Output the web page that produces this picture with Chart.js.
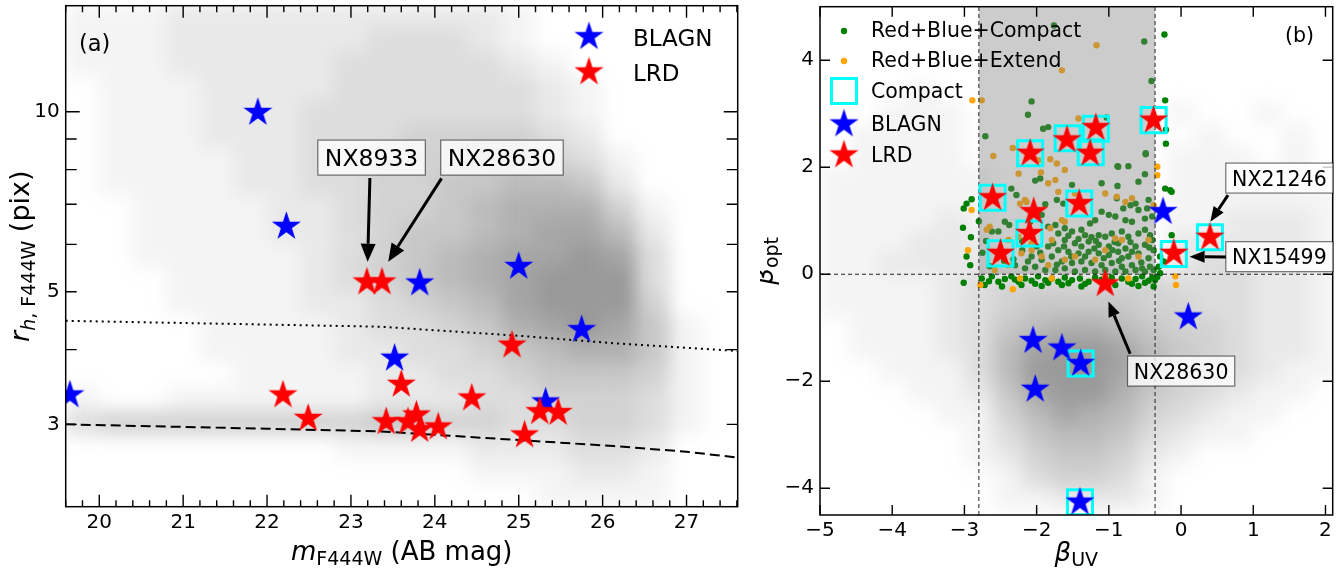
<!DOCTYPE html>
<html>
<head>
<meta charset="utf-8">
<script src="https://cdn.jsdelivr.net/npm/chart.js@4.4.0/dist/chart.umd.min.js"></script>
<style>
  body { margin: 0; background: #fff; width: 1342px; height: 570px; position: relative; overflow: hidden; }
  #ca { position: absolute; left: 0; top: 0; }
  #cb { position: absolute; left: 760px; top: 0; }
</style>
</head>
<body>
<canvas id="ca" width="760" height="570"></canvas>
<canvas id="cb" width="582" height="570"></canvas>
<script>
// ---------- panel (a): size vs magnitude ----------
const xTicksA = [20, 21, 22, 23, 24, 25, 26, 27];
const yTicksA = [3, 5, 10];
const yMinorA = [4, 6, 7, 8, 9];

const blagnA = [[21.89, 9.97], [22.23, 6.43], [19.65, 3.36], [23.82, 5.17], [25.0, 5.51],
                [25.75, 4.32], [23.52, 3.87], [25.32, 3.27]];
const lrdA = [[23.19, 5.19], [23.37, 5.19], [24.92, 4.07], [23.60, 3.50], [24.44, 3.32],
              [25.25, 3.15], [25.47, 3.14], [25.07, 2.88], [22.19, 3.36], [22.49, 3.07],
              [23.42, 3.03], [23.68, 3.03], [23.78, 3.11], [23.82, 2.94], [24.04, 2.97]];

const dottedMag = [19.6, 23.35, 25.0, 26.13, 27.61];
const dottedR = [4.47, 4.37, 4.22, 4.10, 3.98];
const dashedMag = [19.6, 22.0, 23.35, 26.13, 27.0, 27.61];
const dashedR = [3.0, 2.95, 2.92, 2.76, 2.70, 2.64];

// density of the grey parent sample, read by eye (0..9) per cell
const magBins = [19.8, 20.2, 20.6, 21.0, 21.4, 21.8, 22.2, 22.6, 23.0, 23.4,
                 23.8, 24.2, 24.6, 25.0, 25.4, 25.8, 26.2, 26.6, 27.0, 27.4];
const rBins = [14.45, 13.18, 12.02, 10.96, 10.0, 9.12, 8.32, 7.59, 6.92, 6.31, 5.75,
               5.25, 4.79, 4.37, 3.98, 3.63, 3.31, 3.02, 2.75, 2.51, 2.29];
const densA = [
  "11122222222221000000",
  "11122222233321000000",
  "11122222333332100000",
  "01112222333333210000",
  "01112223333333210000",
  "01112223334444320000",
  "01111223344455431000",
  "01111223344556652000",
  "00111122344567774100",
  "00111122345567886200",
  "00111112345678898300",
  "00011112345678999300",
  "00011112234568999400",
  "00001111233457898510",
  "00001111223345677510",
  "00000111122334555410",
  "10011111122233444310",
  "34444444455443344310",
  "00000000111122233200",
  "00000000000011122100",
  "00000000000000111100"
];

// ---------- panel (b): colour-colour ----------
const xTicksB = [-5, -4, -3, -2, -1, 0, 1, 2];
const yTicksB = [-4, -2, 0, 2, 4];
const uvCut = [-2.8, -0.36];
const optCut = 0;

const lrdB = [[-2.61, 1.43], [-2.50, 0.39], [-2.10, 0.76], [-2.09, 2.26], [-2.04, 1.17],
              [-1.58, 2.51], [-1.18, 2.74], [-1.26, 2.26], [-1.41, 1.32], [-0.38, 2.88],
              [0.40, 0.69], [-0.10, 0.39], [-1.05, -0.18]];
const blagnB = [[-0.25, 1.17], [0.10, -0.80], [-2.05, -1.24], [-2.02, -2.15], [-1.65, -1.38],
                [-1.39, -1.67], [-1.40, -4.26]];
const compactB = [[-2.61, 1.43], [-2.50, 0.39], [-2.10, 0.76], [-2.09, 2.26], [-1.57, 2.54],
                  [-1.18, 2.72], [-1.25, 2.28], [-1.41, 1.32], [-0.38, 2.88], [0.40, 0.69],
                  [-0.10, 0.38], [-1.39, -1.67], [-1.40, -4.26]];

const greenB = [
  [-1.76, 4.65], [-0.51, 4.35], [-0.23, 4.48], [-0.41, 3.61], [-2.07, 3.23], [-2.12, 2.98], [-0.22, 3.25],
  [-1.91, 2.72], [-1.84, 2.75], [-2.71, 2.58], [-1.03, 2.93], [-0.21, 2.70], [-0.21, 2.44],
  [-0.49, 2.26], [-0.87, 2.01], [-0.59, 1.73], [-0.22, 1.60], [-0.15, 1.57], [-0.45, 1.39], [-0.70, 1.29],
  [-0.88, 2.02], [-0.73, 2.02], [-0.49, 2.24], [-0.50, 1.87], [-1.10, 1.70], [-0.88, 1.65], [-1.51, 1.67],
  [-1.95, 1.79], [-2.02, 1.75], [-2.28, 1.48], [-2.35, 1.60], [-2.90, 1.40], [-2.97, 1.32], [-1.88, 1.31],
  [-1.72, 1.39], [-1.63, 1.32], [-0.89, 1.42], [-0.80, 1.23], [-0.63, 1.32], [-0.47, 1.23], [-0.59, 1.20],
  [-1.10, 1.17], [-1.00, 1.11], [-0.91, 1.08], [-0.77, 1.01], [-0.68, 0.98], [-0.50, 1.04], [-0.40, 1.08],
  [-2.09, 0.98], [-1.93, 1.11], [-2.44, 0.98], [-2.38, 0.92], [-2.53, 0.80], [-2.62, 0.80], [-1.84, 0.89],
  [-1.74, 0.92], [-1.61, 0.86], [-1.51, 0.80], [-1.70, 0.76], [-1.38, 0.83], [-1.26, 0.95], [-1.19, 1.01],
  [-1.33, 0.73], [-1.24, 0.69], [-1.14, 0.73], [-1.05, 0.70], [-0.96, 0.76], [-0.82, 0.80], [-0.73, 0.70],
  [-0.59, 0.76], [-0.50, 0.83], [-0.43, 0.73], [-0.40, 0.64], [-1.61, 0.64], [-1.47, 0.58], [-1.38, 0.52],
  [-1.28, 0.61], [-1.14, 0.55], [-1.00, 0.52], [-0.87, 0.58], [-0.77, 0.48], [-0.63, 0.52], [-0.50, 0.55],
  [-0.38, 0.45], [-1.84, 0.52], [-1.70, 0.45], [-1.56, 0.42], [-1.42, 0.39], [-1.28, 0.42], [-1.14, 0.39],
  [-1.00, 0.36], [-0.87, 0.42], [-0.73, 0.33], [-0.59, 0.39], [-0.45, 0.30], [-2.07, 0.33], [-1.93, 0.27],
  [-1.79, 0.33], [-1.65, 0.24], [-1.51, 0.21], [-1.38, 0.24], [-1.24, 0.21], [-1.10, 0.17], [-0.96, 0.21],
  [-0.82, 0.14], [-0.68, 0.17], [-0.54, 0.11], [-0.43, 0.14], [-2.30, 0.17], [-2.16, 0.11], [-2.02, 0.14],
  [-1.88, 0.08], [-1.74, 0.08], [-1.61, 0.11], [-1.47, 0.05], [-1.33, 0.08], [-1.19, 0.05], [-1.05, 0.08],
  [-0.91, 0.05], [-0.77, 0.05], [-0.63, 0.08], [-0.50, 0.05], [-0.38, 0.08], [-2.20, 0.45], [-2.45, 0.25],
  [-2.65, 0.15], [-2.75, 0.40], [-2.70, 0.62], [-2.20, 0.62], [-2.00, 0.52],
  [-1.95, 0.40], [-1.77, 0.58], [-1.62, 0.52], [-1.52, 0.33], [-1.33, 0.33], [-1.20, 0.48], [-1.07, 0.30],
  [-0.95, 0.45], [-0.82, 0.30], [-0.68, 0.42], [-0.55, 0.22], [-0.44, 0.50], [-1.42, 0.66], [-1.18, 0.62],
  [-0.92, 0.60], [-0.70, 0.60], [-1.56, 0.72], [-2.32, 0.28], [-2.12, 0.24], [-1.72, 0.18], [-0.86, 0.25],
  [-2.76, -0.08], [-2.62, -0.04], [-2.53, -0.14], [-2.44, -0.09], [-2.35, -0.04], [-2.25, -0.14],
  [-2.16, -0.08], [-2.07, -0.12], [-1.98, -0.04], [-1.88, -0.11], [-1.79, -0.08], [-1.70, -0.14],
  [-1.61, -0.06], [-1.51, -0.11], [-1.40, -0.08], [-1.28, -0.14], [-1.19, -0.06], [-0.82, -0.08],
  [-0.73, -0.14], [-0.63, -0.09], [-0.54, -0.04], [-0.45, -0.12], [-2.72, -0.20], [-2.48, -0.23],
  [-2.21, -0.20], [-1.93, -0.22], [-1.65, -0.20], [-1.38, -0.23], [-0.91, -0.20], [-0.59, -0.22],
  [-2.66, -0.13], [-2.30, -0.10], [-2.02, -0.18], [-1.84, -0.16], [-1.56, -0.17], [-1.33, -0.18],
  [-1.10, -0.10], [-1.00, -0.15], [-0.96, -0.06], [-0.68, -0.18], [-0.50, -0.16], [-0.40, -0.06],
  [-3.01, -0.16], [-2.92, 0.17], [-3.02, 0.87], [-2.91, 0.69], [-2.80, 0.99], [-2.97, 0.33], [-3.01, 1.23],
  [-0.13, 1.54], [-0.13, 0.73], [-0.29, 0.33], [-0.31, 0.14], [-0.33, -0.05], [-0.29, 0.02],
  [-0.36, -0.11], [-0.38, -0.23], [-0.24, 0.24]
];
const orangeB = [
  [-1.17, 4.28], [-1.65, 3.81], [-2.89, 3.25], [-2.76, 3.25], [-1.42, 2.91], [-2.33, 2.36], [-2.60, 2.21],
  [-2.25, 1.88], [-1.94, 1.90], [-1.81, 2.15], [-1.72, 2.07], [-1.74, 1.76], [-1.84, 1.70], [-1.61, 1.95],
  [-1.70, 1.54], [-1.47, 1.51], [-1.05, 1.51], [-0.89, 1.45], [-0.77, 1.35], [-0.68, 1.42], [-2.16, 1.39],
  [-2.23, 1.32], [-2.65, 0.89], [-2.69, 0.83], [-2.39, 0.64], [-2.25, 0.70], [-2.07, 0.58], [-1.79, 0.64],
  [-1.65, 1.01], [-1.61, 0.98], [-1.81, 0.86], [-2.21, 0.39], [-2.07, 0.45], [-1.93, 0.33], [-1.61, 0.27],
  [-1.47, 0.33], [-1.19, 0.27], [-1.05, 0.45], [-0.91, 0.67], [-0.82, 0.64], [-0.45, 0.64], [-0.59, 0.33],
  [-2.58, 0.08], [-2.39, 0.17], [-1.84, 0.17], [-1.05, -0.04], [-2.23, -0.08], [-1.79, -0.08], [-0.73, -0.08],
  [-2.90, 1.20], [-2.95, 0.45], [-0.33, 2.01], [-0.33, 1.85], [-0.38, 1.29], [-0.08, -0.04], [-0.07, -0.20],
  [-2.78, -0.20], [-2.33, -0.28], [-2.14, 1.35], [-1.98, 2.13]
];

// grey parent sample density for panel (b)
const uvBins = [-4.8, -4.4, -4.0, -3.6, -3.2, -2.8, -2.4, -2.0, -1.6, -1.2, -0.8, -0.4, 0.0, 0.4, 0.8, 1.2, 1.6, 2.0];
const optBins = [4.6, 4.2, 3.8, 3.4, 3.0, 2.6, 2.2, 1.8, 1.4, 1.0, 0.6, 0.2,
                 -0.2, -0.6, -1.0, -1.4, -1.8, -2.2, -2.6, -3.0, -3.4, -3.8, -4.2];
const densB = [
  "000000000000000000",
  "000000000000000000",
  "000000000000000000",
  "000100000000000000",
  "001110000000100100",
  "011110000000010010",
  "011110000000111010",
  "111111000000111110",
  "111111000000111111",
  "111121000000112221",
  "111222000000222221",
  "112222000000233221",
  "111123444444333221",
  "111123455554433221",
  "011123567765443221",
  "011123689986543221",
  "001113699986443211",
  "000112589975432110",
  "000011468764321100",
  "000001356653211000",
  "000001245542100000",
  "000000134431000000",
  "000000112221000000"
];

const FONT = 'DejaVu Sans';
Chart.defaults.font.family = FONT;

function starImage(color, R) {
  const c = document.createElement('canvas');
  const s = Math.ceil(2 * R + 2);
  c.width = c.height = s;
  const g = c.getContext('2d');
  g.translate(s / 2, s / 2);
  g.beginPath();
  for (let i = 0; i < 10; i++) {
    const r = i % 2 ? R * 0.382 : R;
    const a = -Math.PI / 2 + i * Math.PI / 5;
    g.lineTo(r * Math.cos(a), r * Math.sin(a));
  }
  g.closePath();
  g.fillStyle = color;
  g.fill();
  return c;
}
const redStar = starImage('#ff0000', 15.3);
const blueStar = starImage('#0000ff', 15.3);

const pts = arr => arr.map(p => ({ x: p[0], y: p[1] }));
const minusFmt = v => (v < 0 ? '\u2212' + Math.abs(v) : String(v));
// keep chart area exactly where the axes boxes put it
const noPad = s => { s.paddingTop = 0; s.paddingBottom = 0; s.paddingLeft = 0; s.paddingRight = 0; };

// grey density cells, painted off-screen then blurred into the plot
function drawDensity(chart, xb, yb, rows, xHalf, yLo, yHi, maxAlpha) {
  const { ctx, chartArea: a, scales: { x, y } } = chart;
  const off = document.createElement('canvas');
  off.width = chart.width; off.height = chart.height;
  const g = off.getContext('2d');
  rows.forEach((row, j) => {
    for (let i = 0; i < row.length; i++) {
      const d = +row[i];
      if (!d) continue;
      const x0 = x.getPixelForValue(xb[i] - xHalf), x1 = x.getPixelForValue(xb[i] + xHalf);
      const y0 = y.getPixelForValue(yHi(yb[j])), y1 = y.getPixelForValue(yLo(yb[j]));
      g.fillStyle = 'rgba(128,128,128,' + (d / 9 * maxAlpha).toFixed(3) + ')';
      g.fillRect(x0, y0, x1 - x0, y1 - y0);
    }
  });
  ctx.save();
  ctx.beginPath();
  ctx.rect(a.left, a.top, a.right - a.left, a.bottom - a.top);
  ctx.clip();
  ctx.filter = 'blur(9px)';
  ctx.drawImage(off, 0, 0);
  ctx.restore();
}

function drawFrame(ctx, a) {
  ctx.save();
  ctx.strokeStyle = '#000';
  ctx.lineWidth = 1.5;
  ctx.strokeRect(a.left, a.top, a.right - a.left, a.bottom - a.top);
  ctx.restore();
}

function xTicks(ctx, a, scale, values, len) {
  ctx.save();
  ctx.strokeStyle = '#000'; ctx.lineWidth = 1.4;
  ctx.beginPath();
  values.forEach(v => {
    const p = scale.getPixelForValue(v);
    ctx.moveTo(p, a.bottom); ctx.lineTo(p, a.bottom - len);
    ctx.moveTo(p, a.top); ctx.lineTo(p, a.top + len);
  });
  ctx.stroke();
  ctx.restore();
}

function yTicks(ctx, a, scale, values, len) {
  ctx.save();
  ctx.strokeStyle = '#000'; ctx.lineWidth = 1.4;
  ctx.beginPath();
  values.forEach(v => {
    const p = scale.getPixelForValue(v);
    ctx.moveTo(a.left, p); ctx.lineTo(a.left + len, p);
    ctx.moveTo(a.right, p); ctx.lineTo(a.right - len, p);
  });
  ctx.stroke();
  ctx.restore();
}

// mathtext-like label built from segments
function mathLabel(ctx, segs, cx, base, rotate) {
  ctx.save();
  ctx.translate(cx, base);
  if (rotate) ctx.rotate(-Math.PI / 2);
  let total = 0;
  segs.forEach(s => { ctx.font = s.f; s.w = ctx.measureText(s.t).width; total += s.w; });
  let x = -total / 2;
  ctx.fillStyle = '#000';
  ctx.textAlign = 'left';
  ctx.textBaseline = 'alphabetic';
  segs.forEach(s => { ctx.font = s.f; ctx.fillText(s.t, x, s.dy || 0); x += s.w; });
  ctx.restore();
}

function arrow(ctx, x0, y0, x1, y1, lw, hl, hw) {
  const ang = Math.atan2(y1 - y0, x1 - x0);
  const bx = x1 - hl * Math.cos(ang), by = y1 - hl * Math.sin(ang);
  ctx.save();
  ctx.strokeStyle = '#000'; ctx.fillStyle = '#000'; ctx.lineWidth = lw;
  ctx.beginPath(); ctx.moveTo(x0, y0); ctx.lineTo(bx, by); ctx.stroke();
  ctx.beginPath();
  ctx.moveTo(x1, y1);
  ctx.lineTo(bx + hw / 2 * Math.sin(ang), by - hw / 2 * Math.cos(ang));
  ctx.lineTo(bx - hw / 2 * Math.sin(ang), by + hw / 2 * Math.cos(ang));
  ctx.closePath(); ctx.fill();
  ctx.restore();
}

function annotate(chart, note, fontSize, padX, boxH, lw, hl, hw) {
  const { ctx, scales: { x, y } } = chart;
  const tx = x.getPixelForValue(note.tail[0]), ty = y.getPixelForValue(note.tail[1]);
  const px = x.getPixelForValue(note.tip[0]), py = y.getPixelForValue(note.tip[1]);
  arrow(ctx, tx, ty, px, py, lw, hl, hw);
  const cx = x.getPixelForValue(note.box[0]), cy = y.getPixelForValue(note.box[1]);
  ctx.save();
  ctx.font = fontSize + 'px ' + FONT;
  const w = ctx.measureText(note.text).width + 2 * padX;
  ctx.fillStyle = 'rgba(255,255,255,0.8)';
  ctx.fillRect(cx - w / 2, cy - boxH / 2, w, boxH);
  ctx.strokeStyle = 'rgba(0,0,0,0.55)'; ctx.lineWidth = 1.2;
  ctx.strokeRect(cx - w / 2, cy - boxH / 2, w, boxH);
  ctx.fillStyle = '#000'; ctx.textAlign = 'center'; ctx.textBaseline = 'alphabetic';
  ctx.fillText(note.text, cx, cy + fontSize * 0.365);
  ctx.restore();
}

function legendText(ctx, text, x, yc, size) {
  ctx.save();
  ctx.font = size + 'px ' + FONT;
  ctx.fillStyle = '#000'; ctx.textAlign = 'left'; ctx.textBaseline = 'alphabetic';
  ctx.fillText(text, x, yc + size * 0.365);
  ctx.restore();
}

const notesA = [
  { text: 'NX8933', box: [23.246, 8.38], tail: [23.226, 7.745], tip: [23.199, 5.613] },
  { text: 'NX28630', box: [24.80, 8.38], tail: [24.08, 7.737], tip: [23.444, 5.613] }
];
const notesB = [
  { text: 'NX21246', box: [1.362, 1.797], tail: [0.650, 1.479], tip: [0.405, 0.981] },
  { text: 'NX15499', box: [1.362, 0.328], tail: [0.623, 0.323], tip: [0.118, 0.328] },
  { text: 'NX28630', box: [0.001, -1.81], tail: [-0.705, -1.487], tip: [-1.006, -0.511] }
];

const common = {
  responsive: false,
  animation: false,
  events: [],
  plugins: { legend: { display: false }, tooltip: { enabled: false } }
};

// ---------- chart (a) ----------
const decoA = {
  id: 'decoA',
  beforeDatasetsDraw(chart) {
    drawDensity(chart, magBins, rBins, densA, 0.2, r => r / 1.0471, r => r * 1.0471, 0.8);
  },
  afterDraw(chart) {
    const { ctx, chartArea: a, scales: { x, y } } = chart;
    drawFrame(ctx, a);
    const minor = [];
    for (let k = 98; k <= 138; k++) if (k % 5) minor.push(k / 5);
    xTicks(ctx, a, x, xTicksA, 12);
    xTicks(ctx, a, x, minor, 6.5);
    yTicks(ctx, a, y, [10], 14);
    yTicks(ctx, a, y, [3, 5].concat(yMinorA), 11);

    notesA.forEach(n => annotate(chart, n, 23.5, 7, 35, 3, 18, 15));

    // legend
    ctx.drawImage(blueStar, 589 - blueStar.width / 2, 36.7 - blueStar.height / 2);
    ctx.drawImage(redStar, 589 - redStar.width / 2, 72 - redStar.height / 2);
    legendText(ctx, 'BLAGN', 633, 37.5, 23);
    legendText(ctx, 'LRD', 633, 72.5, 23);
    legendText(ctx, '(a)', 79, 43, 22.5);

    mathLabel(ctx, [
      { t: 'm', f: 'italic 26px ' + FONT },
      { t: 'F444W', f: '19px ' + FONT, dy: 5 },
      { t: ' (AB mag)', f: '26px ' + FONT }
    ], (a.left + a.right) / 2, 560, false);
    mathLabel(ctx, [
      { t: 'r', f: 'italic 27px ' + FONT },
      { t: 'h', f: 'italic 19px ' + FONT, dy: 6 },
      { t: ', F444W', f: '19px ' + FONT, dy: 6 },
      { t: ' (pix)', f: '27px ' + FONT }
    ], 29, (a.top + a.bottom) / 2, true);
  }
};

new Chart(document.getElementById('ca'), {
  type: 'scatter',
  data: {
    datasets: [
      { label: 'LRD', data: pts(lrdA), pointStyle: redStar, pointRadius: 15, order: 1 },
      { label: 'BLAGN', data: pts(blagnA), pointStyle: blueStar, pointRadius: 15, order: 2 },
      { type: 'line', label: 'dotted', data: dottedMag.map((m, i) => ({ x: m, y: dottedR[i] })),
        borderColor: '#000', borderWidth: 2, borderDash: [2, 4], pointRadius: 0, fill: false, order: 3 },
      { type: 'line', label: 'dashed', data: dashedMag.map((m, i) => ({ x: m, y: dashedR[i] })),
        borderColor: '#000', borderWidth: 2, borderDash: [10, 5], pointRadius: 0, fill: false, order: 3 }
    ]
  },
  options: Object.assign({}, common, {
    layout: { autoPadding: false, padding: { left: 0, right: 22.3, top: 5.7, bottom: 0 } },
    scales: {
      x: {
        type: 'linear', min: 19.6, max: 27.61,
        grid: { display: false, drawTicks: false }, border: { display: false },
        afterBuildTicks: s => { s.ticks = xTicksA.map(v => ({ value: v })); },
        afterFit: s => { s.height = 63.3; noPad(s); },
        ticks: { font: { size: 20 }, color: '#000', padding: 4, maxRotation: 0, autoSkip: false, callback: v => String(v) }
      },
      y: {
        type: 'logarithmic', min: 2.185, max: 15.04,
        grid: { display: false, drawTicks: false }, border: { display: false },
        afterBuildTicks: s => { s.ticks = yTicksA.map(v => ({ value: v })); },
        afterFit: s => { s.width = 65.7; noPad(s); },
        ticks: { font: { size: 20 }, color: '#000', padding: 6, autoSkip: false, callback: v => String(v) }
      }
    }
  }),
  plugins: [decoA]
});

// ---------- chart (b) ----------
const decoB = {
  id: 'decoB',
  beforeDatasetsDraw(chart) {
    drawDensity(chart, uvBins, optBins, densB, 0.2, v => v - 0.2, v => v + 0.2, 0.8);
  },
  afterDatasetDraw(chart, args) {
    if (chart.data.datasets[args.index].label !== 'Red+Blue+Extend') return;
    const { ctx, chartArea: a, scales: { x, y } } = chart;
    const x0 = x.getPixelForValue(uvCut[0]), x1 = x.getPixelForValue(uvCut[1]);
    const y0 = y.getPixelForValue(optCut);
    ctx.save();
    ctx.fillStyle = 'rgba(128,128,128,0.4)';
    ctx.fillRect(x0, a.top, x1 - x0, y0 - a.top);
    ctx.restore();
  },
  afterDraw(chart) {
    const { ctx, chartArea: a, scales: { x, y } } = chart;
    drawFrame(ctx, a);
    xTicks(ctx, a, x, xTicksB, 10);
    yTicks(ctx, a, y, yTicksB, 10);

    notesB.forEach(n => annotate(chart, n, 20.5, 6.3, 30, 3, 15, 12));

    // legend
    const lx = 84;
    ctx.save();
    ctx.fillStyle = '#008000';
    ctx.beginPath(); ctx.arc(lx, 31, 3.2, 0, Math.PI * 2); ctx.fill();
    ctx.fillStyle = '#ffa500';
    ctx.beginPath(); ctx.arc(lx, 61, 3.2, 0, Math.PI * 2); ctx.fill();
    ctx.strokeStyle = '#00ffff'; ctx.lineWidth = 3;
    ctx.strokeRect(lx - 12.5, 91 - 12.5, 25, 25);
    ctx.restore();
    ctx.drawImage(blueStar, lx - blueStar.width / 2, 124 - blueStar.height / 2);
    ctx.drawImage(redStar, lx - redStar.width / 2, 155 - redStar.height / 2);
    const tx = 111;
    legendText(ctx, 'Red+Blue+Compact', tx, 30, 20.5);
    legendText(ctx, 'Red+Blue+Extend', tx, 60, 20.5);
    legendText(ctx, 'Compact', tx, 91, 20.5);
    legendText(ctx, 'BLAGN', tx, 124, 20.5);
    legendText(ctx, 'LRD', tx, 154.5, 20.5);
    legendText(ctx, '(b)', 525, 34, 20.6);

    mathLabel(ctx, [
      { t: '\u03b2', f: 'italic 26px ' + FONT },
      { t: 'UV', f: '19px ' + FONT, dy: 5 }
    ], (a.left + a.right) / 2, 561, false);
    mathLabel(ctx, [
      { t: '\u03b2', f: 'italic 26px ' + FONT },
      { t: 'opt', f: '19px ' + FONT, dy: 5 }
    ], 13, (a.top + a.bottom) / 2, true);
  }
};

const vline = v => [{ x: v, y: -4.5 }, { x: v, y: 5 }];
const dashStyle = { type: 'line', borderColor: '#222', borderWidth: 1, borderDash: [4, 3], pointRadius: 0, fill: false, order: 4 };

new Chart(document.getElementById('cb'), {
  type: 'scatter',
  data: {
    datasets: [
      { label: 'LRD', data: pts(lrdB), pointStyle: redStar, pointRadius: 15, order: 1 },
      { label: 'BLAGN', data: pts(blagnB), pointStyle: blueStar, pointRadius: 15, order: 2 },
      { label: 'Compact', data: pts(compactB), pointStyle: 'rect', pointRadius: 17.7,
        pointBackgroundColor: 'rgba(0,0,0,0)', pointBorderColor: '#00ffff', pointBorderWidth: 3, order: 3 },
      Object.assign({ label: 'cut1', data: vline(uvCut[0]) }, dashStyle),
      Object.assign({ label: 'cut2', data: vline(uvCut[1]) }, dashStyle),
      Object.assign({ label: 'cut3', data: [{ x: -5, y: optCut }, { x: 2.1, y: optCut }] }, dashStyle),
      { label: 'Red+Blue+Extend', data: pts(orangeB), pointRadius: 3.2, pointBorderWidth: 0,
        pointBackgroundColor: '#ffa500', order: 6 },
      { label: 'Red+Blue+Compact', data: pts(greenB), pointRadius: 3.2, pointBorderWidth: 0,
        pointBackgroundColor: '#008000', order: 7 }
    ]
  },
  options: Object.assign({}, common, {
    layout: { autoPadding: false, padding: { left: 0, right: 9.3, top: 6.7, bottom: 0 } },
    scales: {
      x: {
        type: 'linear', min: -5, max: 2.1,
        grid: { display: false, drawTicks: false }, border: { display: false },
        afterBuildTicks: s => { s.ticks = xTicksB.map(v => ({ value: v })); },
        afterFit: s => { s.height = 55; noPad(s); },
        ticks: { font: { size: 20 }, color: '#000', padding: 4, maxRotation: 0, autoSkip: false, callback: minusFmt }
      },
      y: {
        type: 'linear', min: -4.5, max: 5,
        grid: { display: false, drawTicks: false }, border: { display: false },
        afterBuildTicks: s => { s.ticks = yTicksB.map(v => ({ value: v })); },
        afterFit: s => { s.width = 60; noPad(s); },
        ticks: { font: { size: 20 }, color: '#000', padding: 6, autoSkip: false, callback: minusFmt }
      }
    }
  }),
  plugins: [decoB]
});
</script>
</body>
</html>
